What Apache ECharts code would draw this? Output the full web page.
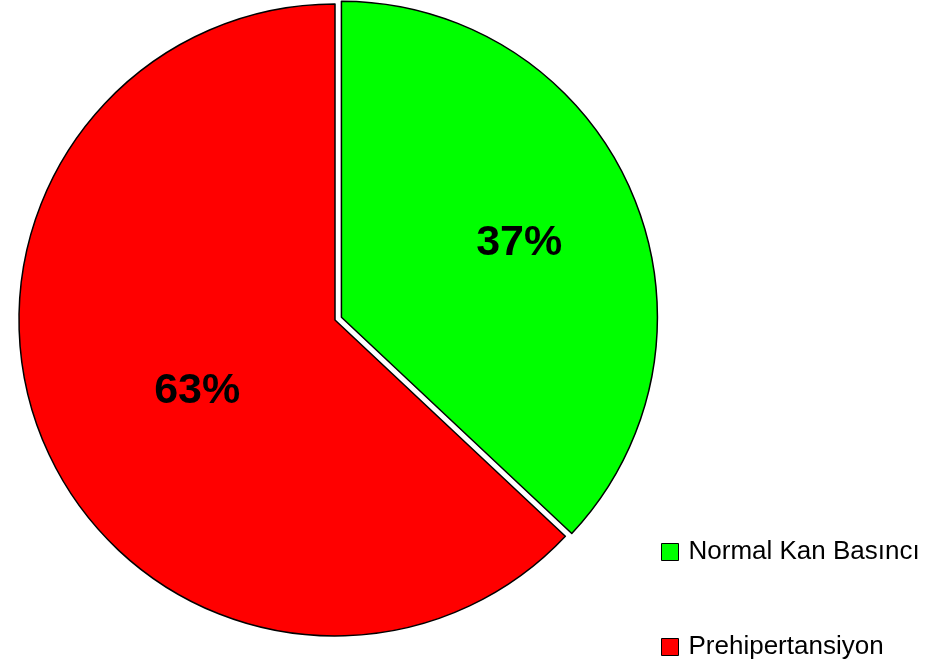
<!DOCTYPE html>
<html>
<head>
<meta charset="utf-8">
<script src="https://cdn.jsdelivr.net/npm/echarts@6/dist/echarts.min.js"></script>
<style>
    html, body { margin: 0; padding: 0; background: #fff; }
    #chart { width: 928px; height: 668px; }
</style>
</head>
<body>
<div id="chart"></div>
<script>
var categories = ["Normal Kan Basıncı", "Prehipertansiyon"];
var values = [37, 63];
var colors = ["#00ff00", "#ff0000"];

chart1();

function chart1() {
    var myChart = echarts.init(document.getElementById("chart"));

    var data = categories.map(function (name, i) {
        return {
            name: name,
            value: values[i],
            selected: i === 0,
            itemStyle: { color: colors[i] },
        };
    });

    var option = {
        animation: false,
        legend: {
            orient: "vertical",
            left: 661,
            top: 539,
            padding: 0,
            itemWidth: 17,
            itemHeight: 17,
            itemGap: 69,
            icon: "rect",
            itemStyle: {
                borderColor: "#000",
                borderWidth: 1,
            },
            textStyle: {
                fontFamily: "Liberation Sans",
                fontSize: 26,
                lineHeight: 26,
                color: "#000",
                padding: [0, 0, 0, 5],
            },
            data: categories,
        },
        series: [
            {
                type: "pie",
                center: [335, 320],
                radius: 316,
                startAngle: 90,
                clockwise: true,
                selectedMode: "single",
                selectedOffset: 7,
                itemStyle: {
                    borderColor: "#000",
                    borderWidth: 1.5,
                },
                emphasis: { disabled: true },
                label: {
                    show: true,
                    position: "inside",
                    formatter: "{d}%",
                    fontFamily: "Liberation Sans",
                    fontWeight: "bold",
                    fontSize: 43,
                    color: "#000",
                },
                labelLine: { show: false },
                labelLayout: function (params) {
                    // Excel puts the labels a bit off the echarts spots
                    if (params.dataIndex === 0) {
                        return { dx: 30, dy: -10 };
                    }
                    return { dx: 10, dy: 7 };
                },
                data: data,
            },
        ],
    };

    myChart.setOption(option);
}
</script>
</body>
</html>
